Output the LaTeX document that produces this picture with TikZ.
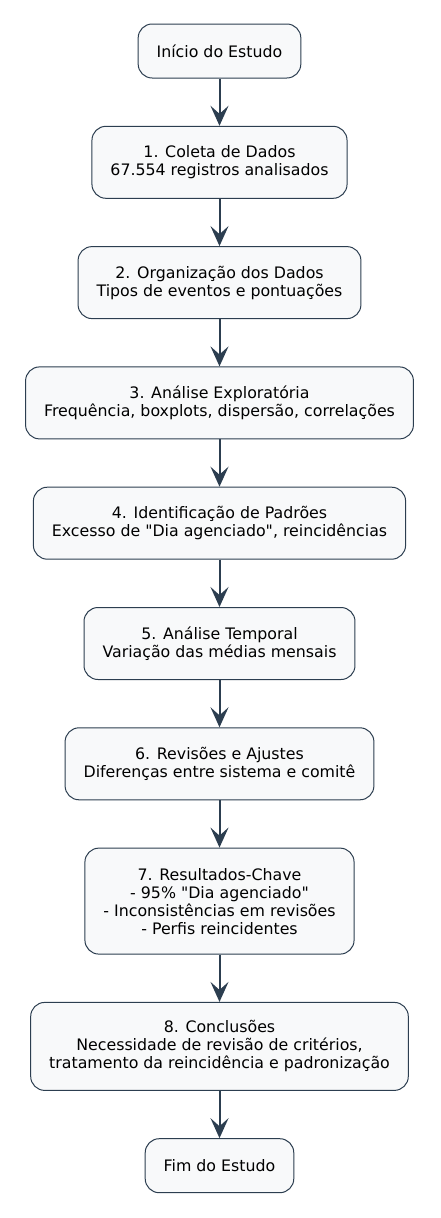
\documentclass[tikz,border=0pt]{standalone}
\usepackage{fontspec}
\setmainfont{DejaVu Sans}
\newfontfamily\stagefont{DejaVu Sans}
\usepackage{tikz}
\usetikzlibrary{arrows.meta,positioning}
\definecolor{edgeblue}{HTML}{2C3E50}
\definecolor{boxfill}{HTML}{F8F9FA}

\tikzset{
  stage/.style={draw=edgeblue, fill=boxfill, line width=1pt, rounded corners=14pt,
    align=center, inner xsep=18.5pt, font=\stagefont\fontsize{15.8}{18}\selectfont},
  flow/.style={-{Stealth[length=20pt, width=18pt, inset=8pt]}, draw=edgeblue, line width=2pt}
}

\begin{document}
\begin{tikzpicture}[x=1pt, y=1pt, node distance=47.3pt]
  \useasboundingbox (0,0) rectangle (440,-1218);

  % Stages of the study
  \node[stage, minimum height=54pt] (inicio) at (219.5,-51) {Início do Estudo};
  \node[stage, minimum height=72pt, below=of inicio] (coleta) {1. Coleta de Dados\\67.554 registros analisados};
  \node[stage, minimum height=72pt, below=of coleta] (organizacao) {2. Organização dos Dados\\Tipos de eventos e pontuações};
  \node[stage, minimum height=72pt, below=of organizacao] (exploratoria) {3. Análise Exploratória\\Frequência, boxplots, dispersão, correlações};
  \node[stage, minimum height=72pt, below=of exploratoria] (padroes) {4. Identificação de Padrões\\Excesso de "Dia agenciado", reincidências};
  \node[stage, minimum height=72pt, below=of padroes] (temporal) {5. Análise Temporal\\Variação das médias mensais};
  \node[stage, minimum height=72pt, below=of temporal] (revisoes) {6. Revisões e Ajustes\\Diferenças entre sistema e comitê};
  \node[stage, minimum height=106pt, below=of revisoes] (resultados) {7. Resultados-Chave\\- 95\% "Dia agenciado"\\- Inconsistências em revisões\\- Perfis reincidentes};
  \node[stage, minimum height=88pt, below=of resultados] (conclusoes) {8. Conclusões\\Necessidade de revisão de critérios,\\tratamento da reincidência e padronização};
  \node[stage, minimum height=54pt, below=of conclusoes] (fim) {Fim do Estudo};

  % Arrows between stages
  \foreach \a/\b in {inicio/coleta, coleta/organizacao, organizacao/exploratoria,
    exploratoria/padroes, padroes/temporal, temporal/revisoes, revisoes/resultados,
    resultados/conclusoes, conclusoes/fim} {
    \draw[flow] (\a) -- (\b);
  }
\end{tikzpicture}
\end{document}
